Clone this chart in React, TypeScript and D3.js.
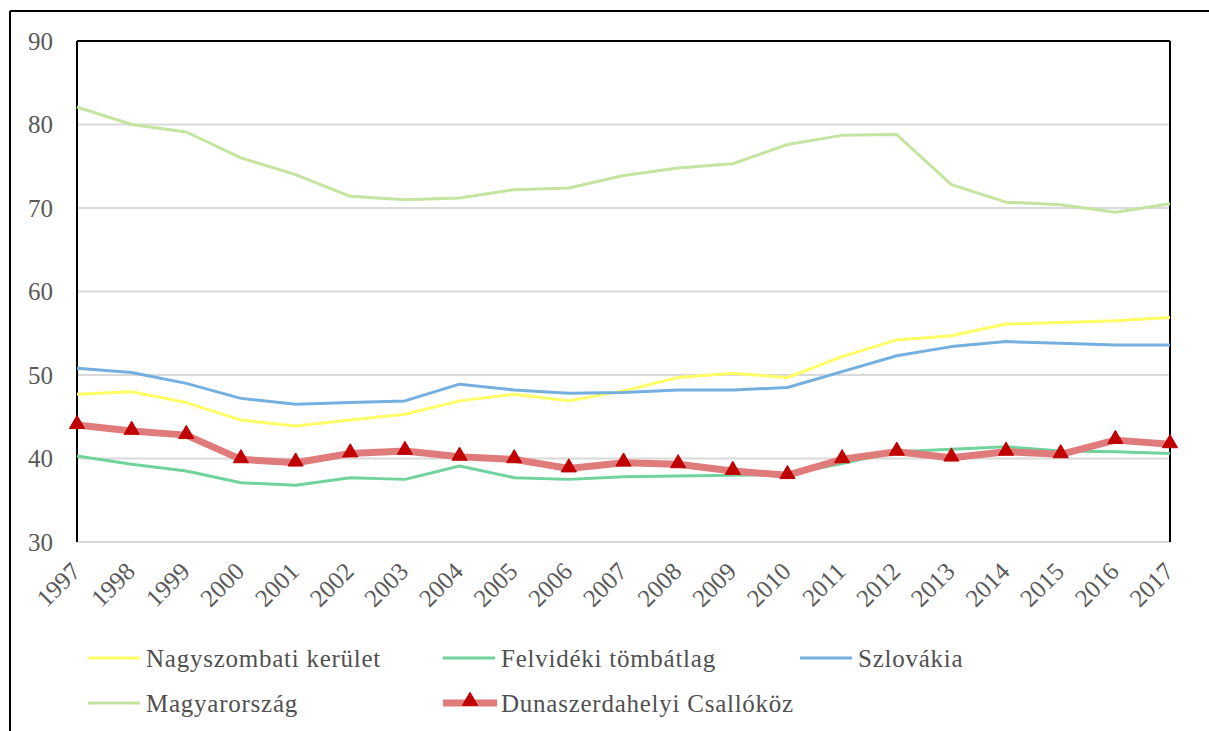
import React from "react";
import * as d3 from "d3";

const years = [1997,1998,1999,2000,2001,2002,2003,2004,2005,2006,2007,2008,2009,2010,2011,2012,2013,2014,2015,2016,2017];
const nagyszombati = [47.7,48.0,46.7,44.6,43.9,44.6,45.3,46.9,47.7,46.9,48.1,49.7,50.2,49.7,52.2,54.2,54.7,56.1,56.3,56.5,56.9];
const felvideki = [40.3,39.3,38.5,37.1,36.8,37.7,37.5,39.1,37.7,37.5,37.8,37.9,38.0,38.1,39.4,40.8,41.1,41.4,40.9,40.8,40.6];
const szlovakia = [50.8,50.3,49.0,47.2,46.5,46.7,46.9,48.9,48.2,47.8,47.9,48.2,48.2,48.5,50.4,52.3,53.4,54.0,53.8,53.6,53.6];
const magyarorszag = [82.1,80.0,79.1,76.0,74.0,71.4,71.0,71.2,72.2,72.4,73.9,74.8,75.3,77.6,78.7,78.8,72.8,70.7,70.4,69.5,70.5];
const dunaszerdahelyi = [44.0,43.3,42.8,39.9,39.5,40.6,40.9,40.2,39.9,38.8,39.5,39.3,38.5,38.0,39.9,40.8,40.1,40.8,40.5,42.2,41.7];
const yTicks = [30,40,50,60,70,80,90];

const series = [
  { name: "Nagyszombati kerület", values: nagyszombati, color: "#ffff66", width: 3 },
  { name: "Felvidéki tömbátlag", values: felvideki, color: "#70d39c", width: 3 },
  { name: "Szlovákia", values: szlovakia, color: "#74afdf", width: 3 },
  { name: "Magyarország", values: magyarorszag, color: "#c4e4a0", width: 3 },
];

const W = 1209, H = 731;
const L = 77, R = 1170, T = 41, B = 542;
const FONT = "Liberation Serif, DejaVu Serif, Times New Roman, serif";
const fontStyle = { fontFamily: FONT };
const legendStyle = { fontFamily: FONT, letterSpacing: "0.75px" };

export default function App() {
  const x = d3.scaleLinear().domain([1997, 2017]).range([L, R]);
  const y = d3.scaleLinear().domain([30, 90]).range([B, T]);
  const line = d3.line<number>().x((_, i) => x(years[i])).y((d) => y(d));
  const tri = d3.symbol().type(d3.symbolTriangle).size(100)() as string;

  const legendItems = [
    { ...series[0], lx: 88, ly: 658 },
    { ...series[1], lx: 443, ly: 658 },
    { ...series[2], lx: 800, ly: 658 },
    { ...series[3], lx: 88, ly: 703 },
  ];

  return (
    <div style={{ position: "absolute", left: 0, top: 0 }}>
      <svg width={W} height={H} style={{ display: "block", background: "#fff" }}>
        <line x1={10} y1={11} x2={W} y2={11} stroke="#000" strokeWidth={2} />
        <line x1={10} y1={11} x2={10} y2={H} stroke="#000" strokeWidth={2} />
        {yTicks.map((t) => (
          <g key={t}>
            <line x1={L} x2={R} y1={y(t)} y2={y(t)} stroke="#d9d9d9" strokeWidth={2} />
            <text x={53} y={y(t)} dy="0.35em" textAnchor="end" style={fontStyle} fontSize={25} fill="#595959">{t}</text>
          </g>
        ))}
        <line x1={L} x2={R} y1={T} y2={T} stroke="#000" strokeWidth={2} />
        <line x1={L} x2={L} y1={T} y2={B} stroke="#000" strokeWidth={2} />
        <line x1={R} x2={R} y1={T} y2={B} stroke="#000" strokeWidth={2} />
        {years.map((yr) => (
          <text key={yr} transform={`translate(${x(yr) + 5},${573}) rotate(-45)`} textAnchor="end"
            style={fontStyle} fontSize={25} fill="#595959">{yr}</text>
        ))}
        {series.map((s) => (
          <path key={s.name} d={line(s.values) as string} fill="none" stroke={s.color} strokeWidth={s.width} strokeLinejoin="round" />
        ))}
        <path d={line(dunaszerdahelyi) as string} fill="none" stroke="#e07b7b" strokeWidth={7} strokeLinejoin="round" />
        {dunaszerdahelyi.map((v, i) => (
          <path key={i} d={tri} transform={`translate(${x(years[i])},${y(v) - 1})`} fill="#c00000" stroke="#c00000" strokeWidth={1} strokeLinejoin="round" />
        ))}
        {legendItems.map((it) => (
          <g key={it.name}>
            <line x1={it.lx} x2={it.lx + 52} y1={it.ly} y2={it.ly} stroke={it.color} strokeWidth={3} />
            <text x={it.lx + 58} y={it.ly} dy="0.35em" style={legendStyle} fontSize={25} fill="#505050">{it.name}</text>
          </g>
        ))}
        <g>
          <line x1={443} x2={497} y1={703} y2={703} stroke="#e07b7b" strokeWidth={7} />
          <path d={tri} transform={`translate(470,701)`} fill="#c00000" stroke="#c00000" strokeWidth={1} strokeLinejoin="round" />
          <text x={501} y={703} dy="0.35em" style={legendStyle} fontSize={25} fill="#505050">Dunaszerdahelyi Csallóköz</text>
        </g>
      </svg>
    </div>
  );
}
